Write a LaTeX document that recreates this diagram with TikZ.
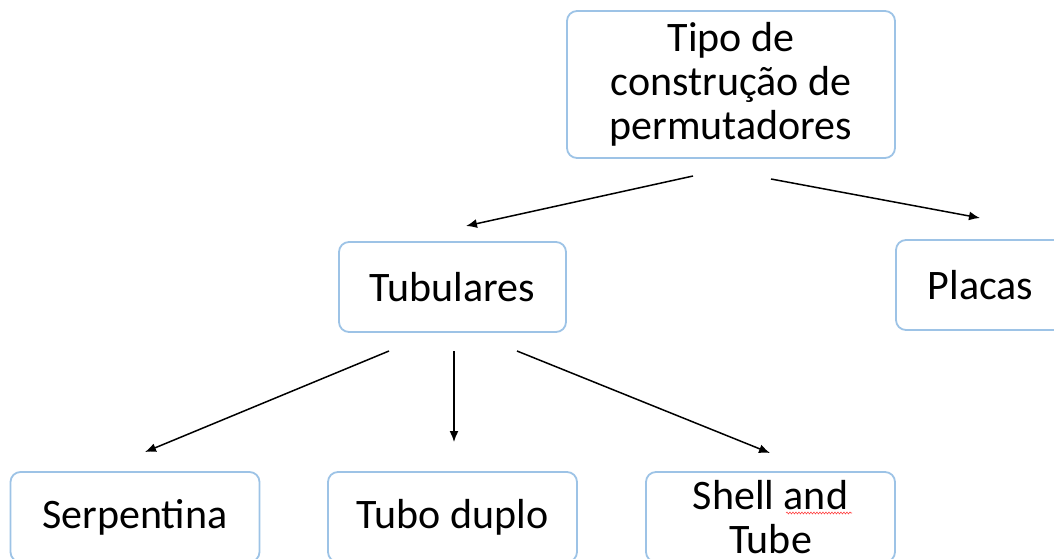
\documentclass[tikz,border=0pt]{standalone}
\usepackage{fontspec}
\setmainfont{Carlito}
\usetikzlibrary{arrows.meta,decorations.pathmorphing}
\definecolor{boxblue}{HTML}{9DC3E6}
\begin{document}
\begin{tikzpicture}[x=1pt,y=-1pt,
  box/.style={draw=boxblue,line width=1.8pt,rounded corners=10pt,align=center,inner sep=0pt,font=\fontsize{42}{44}\selectfont},
  arr/.style={-{Latex[length=11pt,width=9pt]},line width=1.5pt}]
\useasboundingbox (0,0) rectangle (1054,559);
\clip (0,0) rectangle (1054,559);

\node[box,minimum width=328pt,minimum height=147pt] (tipo) at (731,84.5) {Tipo de\\construção de\\permutadores};
\node[box,minimum width=227pt,minimum height=90pt] (tubulares) at (452.5,287) {Tubulares};
\node[box,minimum width=169pt,minimum height=90pt] (placas) at (980.5,285) {Placas};

\node[box,minimum width=249pt,minimum height=90pt] (serpentina) at (135,517) {Serpentina};
\node[box,minimum width=249pt,minimum height=90pt] (duplo) at (452.5,517) {Tubo duplo};
\node[box,minimum width=249pt,minimum height=90pt] (shell) at (770.5,517) {Shell and\\Tube};

% spelling mark under "and"
\draw[red!75,line width=0.6pt,decorate,decoration={snake,amplitude=0.9pt,segment length=3pt}] (786,513) -- (852,513);

\coordinate (tipo-l) at (693,176);
\coordinate (tipo-r) at (771,179);
\coordinate (tub-in) at (466,226);
\coordinate (plac-in) at (980,218);
\coordinate (tub-l) at (389,351);
\coordinate (tub-m) at (454,351);
\coordinate (tub-r) at (517,351);
\coordinate (serp-in) at (145,452);
\coordinate (duplo-in) at (454,442);
\coordinate (shell-in) at (770,453);

\draw[arr] (tipo-l) -- (tub-in);
\draw[arr] (tipo-r) -- (plac-in);
\draw[arr] (tub-l) -- (serp-in);
\draw[arr] (tub-m) -- (duplo-in);
\draw[arr] (tub-r) -- (shell-in);
\end{tikzpicture}
\end{document}
